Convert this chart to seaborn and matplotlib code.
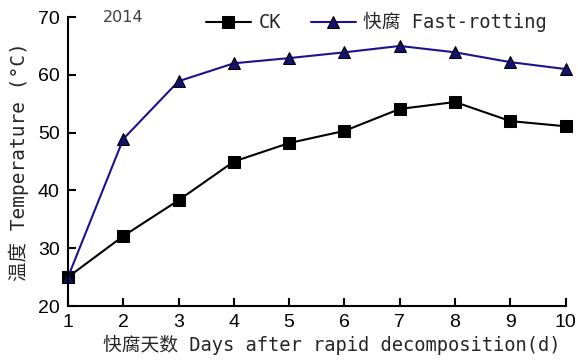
import numpy as np
import pandas as pd
import matplotlib
matplotlib.use("Agg")
import matplotlib.pyplot as plt
import seaborn as sns
from matplotlib import font_manager

days = [1, 2, 3, 4, 5, 6, 7, 8, 9, 10]
ck = [25.0, 32.1, 38.3, 45.0, 48.2, 50.3, 54.1, 55.3, 52.0, 51.1]
fast = [25.0, 48.9, 58.9, 62.0, 62.9, 63.9, 65.0, 63.9, 62.2, 61.0]
series_names = ["CK", "快腐 Fast-rotting"]

sns.set_style("ticks")
plt.rcParams['font.family'] = ['Noto Sans CJK SC', 'DejaVu Sans']

names = {f.name for f in font_manager.fontManager.ttflist}
tick_font = "Liberation Sans Narrow" if "Liberation Sans Narrow" in names else "Liberation Sans"

df = pd.DataFrame({
    "day": days * 2,
    "temp": ck + fast,
    "group": [series_names[0]] * len(days) + [series_names[1]] * len(days),
})

fig = plt.figure(figsize=(5.78, 3.63), dpi=100)
ax = fig.add_axes([0.1176, 0.157, 0.861, 0.796])

palette = {series_names[0]: "black", series_names[1]: "#1c1290"}
sns.lineplot(data=df, x="day", y="temp", hue="group", style="group",
             markers={series_names[0]: "s", series_names[1]: "^"},
             dashes=False, palette=palette, markersize=8, linewidth=1.5,
             markeredgecolor="black", ax=ax, legend=True)

# triangles filled dark navy
for line in ax.lines:
    if line.get_marker() == "^":
        line.set_markerfacecolor("#14126a")

ax.set_xlim(1, 10)
ax.set_ylim(20, 70)
ax.set_xticks(days)
ax.set_yticks([20, 30, 40, 50, 60, 70])
ax.tick_params(direction="in", length=6, width=1.5, labelsize=14, pad=6,
               colors="black")
for lab in ax.get_xticklabels() + ax.get_yticklabels():
    lab.set_family(tick_font)
for s in ["left", "bottom"]:
    ax.spines[s].set_linewidth(1.5)
    ax.spines[s].set_color("black")
sns.despine(ax=ax)
for line in ax.lines:
    line.set_clip_on(False)

mono = ['DejaVu Sans Mono', 'Noto Sans CJK SC']
ax.set_xlabel("快腐天数 Days after rapid decomposition(d)", fontsize=13.5,
              family=mono, labelpad=5)
ax.xaxis.set_label_coords(0.53, -0.1)
ax.set_ylabel("温度 Temperature (°C)", fontsize=14, family=mono, labelpad=6)

handles, labels = ax.get_legend_handles_labels()
leg = ax.legend(handles, labels, loc="upper center", bbox_to_anchor=(0.62, 1.075),
                ncol=2, frameon=False, handlelength=2.4,
                columnspacing=1.6, handletextpad=0.4,
                prop={"family": mono, "size": 13.5})

ax.text(0.07, 1.0, "2014", transform=ax.transAxes, fontsize=11.5,
        color="#404040", va="center", ha="left", family="DejaVu Sans")

fig.savefig("out.png", dpi=100)
